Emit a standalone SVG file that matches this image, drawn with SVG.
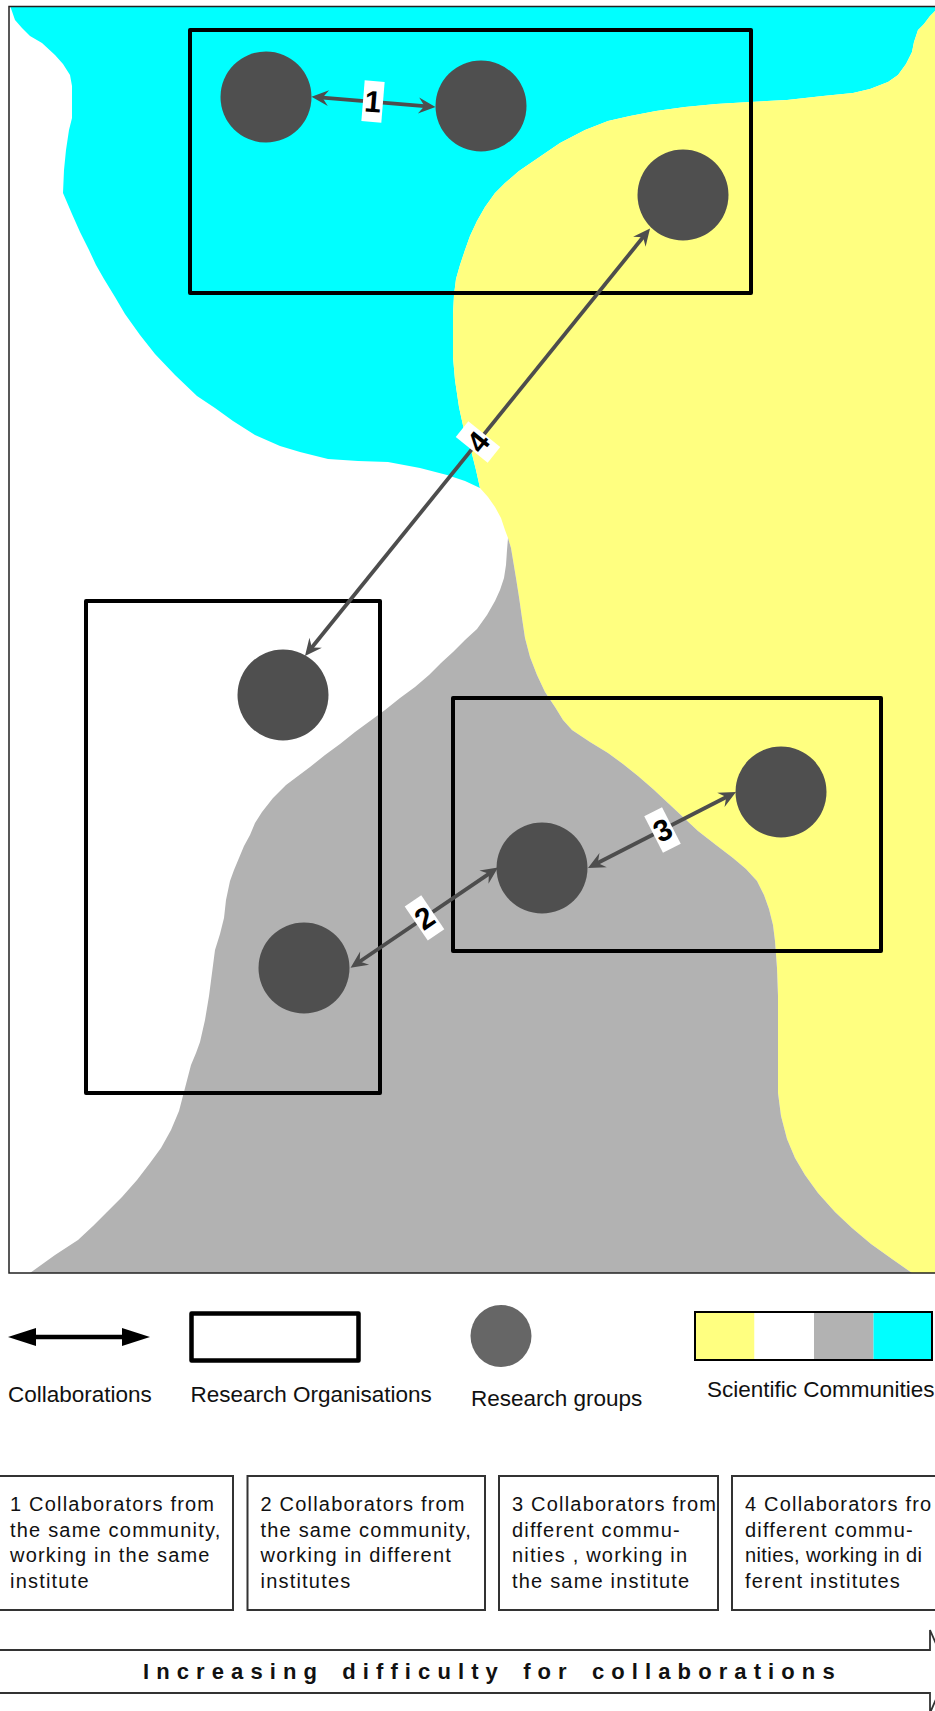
<svg xmlns="http://www.w3.org/2000/svg" width="935" height="1711" viewBox="0 0 935 1711">
<style>
.org{fill:none;stroke:#000;stroke-width:4;stroke-linejoin:round}
.grp{fill:#4f4f4f}
.conn{fill:none;stroke:#4d4d4d;stroke-width:3.8;marker-start:url(#ah);marker-end:url(#ah)}
.lblbox{fill:#fff}
.lbl{font-family:"Liberation Sans",Arial,sans-serif;font-weight:bold;font-size:30px;fill:#000;text-anchor:middle}
.leg{font-family:"Liberation Sans",Arial,sans-serif;font-size:22.5px;fill:#111}
.desc{font-family:"Liberation Sans",Arial,sans-serif;font-size:20px;letter-spacing:1.2px;fill:#111}
.desc.tight{letter-spacing:0.4px}
.dbox{fill:#fff;stroke:#333;stroke-width:2}
.incr{font-family:"Liberation Sans",Arial,sans-serif;font-weight:bold;font-size:22px;letter-spacing:7.1px;word-spacing:5px;fill:#111}
</style>
<defs>
<marker id="ah" viewBox="-10 -9 19 18" refX="0" refY="0" markerWidth="19" markerHeight="18" markerUnits="userSpaceOnUse" orient="auto-start-reverse">
<path d="M8,0 L-9,-8 L-3,0 L-9,8 Z" fill="#4d4d4d"/>
</marker>
<marker id="lh" viewBox="-2 -10 30 20" refX="0" refY="0" markerWidth="30" markerHeight="20" markerUnits="userSpaceOnUse" orient="auto-start-reverse">
<path d="M27,0 L-1,-9 L-1,9 Z" fill="#000"/>
</marker>
</defs>
<rect x="0" y="0" width="935" height="1711" fill="#fff"/>
<g id="communities">
<polygon id="community-cyan" fill="#00ffff" points="10.5,7 935,7 935,11 930,16 924,24 918,30 914,42 912,52 906,64 898,75 888,82 870,89 853,93 823,96 787,100 750,102 716,104 685,107 656,111 630,116 608,121 585,130 560,143 538,158 519,171 505,183 495,193 485,207 477,221 470,236 465,250 460,265 456,279 454,295 453,314 453,335 453,357 455,380 459,407 464,430 471,450 476,470 480,488 465,481 447,475 420,468 388,462 358,461 328,459 300,452 280,446 255,435 233,421 215,408 197,396 175,375 155,354 140,335 125,314 115,297 104,279 96,265 89,250 80,232 72,214 66,200 63,193 64,170 66,150 69,130 72,118 72,86 70,75 63,64 55,55 42,43 30,36 22,28 15,20"/>
<polygon id="community-yellow" fill="#ffff80" points="935,11 930,16 924,24 918,30 914,42 912,52 906,64 898,75 888,82 870,89 853,93 823,96 787,100 750,102 716,104 685,107 656,111 630,116 608,121 585,130 560,143 538,158 519,171 505,183 495,193 485,207 477,221 470,236 465,250 460,265 456,279 454,295 453,314 453,335 453,357 455,380 459,407 464,430 471,450 476,470 480,488 488,497 495,507 501,518 505,530 508,538 511,548 513,560 516,578 519,597 522,618 525,638 530,657 537,675 545,692 555,707 563,720 572,730 590,742 608,753 623,764 638,776 653,789 668,803 683,817 698,831 716,845 733,858 746,869 757,881 764,895 769,909 773,925 775,941 777,968 778,996 778,1042 778,1093 781,1116 787,1139 795,1158 805,1175 818,1193 835,1212 852,1228 871,1244 892,1259 912,1273 935,1273"/>
<polygon id="community-gray" fill="#b2b2b2" points="508,538 511,548 513,560 516,578 519,597 522,618 525,638 530,657 537,675 545,692 555,707 563,720 572,730 590,742 608,753 623,764 638,776 653,789 668,803 683,817 698,831 716,845 733,858 746,869 757,881 764,895 769,909 773,925 775,941 777,968 778,996 778,1042 778,1093 781,1116 787,1139 795,1158 805,1175 818,1193 835,1212 852,1228 871,1244 892,1259 912,1273 30,1273 55,1255 78,1240 93,1226 107,1212 122,1197 137,1180 150,1163 161,1148 171,1130 179,1111 185,1088 191,1065 196,1053 200,1042 205,1020 209,996 212,973 215,950 220,934 224,918 226,900 230,881 234,870 239,858 244,846 250,835 255,823 262,812 273,798 286,785 298,776 310,767 325,755 340,744 355,732 370,721 385,710 400,698 415,687 429,675 441,663 453,652 465,640 477,629 487,615 495,601 500,590 504,578 506,565 507,550"/>
<rect id="frame" x="9" y="6.5" width="940" height="1266.5" fill="none" stroke="#222" stroke-width="1.5"/>
</g>
<g id="org-a"><rect class="org" x="190" y="30" width="561" height="263"/></g>
<g id="org-b"><rect class="org" x="86" y="601" width="294" height="492"/></g>
<g id="org-c"><rect class="org" x="453" y="698" width="428" height="253"/></g>
<g id="grp-1"><circle class="grp" cx="266" cy="97" r="45.5"/></g>
<g id="grp-2"><circle class="grp" cx="481" cy="106" r="45.5"/></g>
<g id="grp-3"><circle class="grp" cx="683" cy="195" r="45.5"/></g>
<g id="grp-4"><circle class="grp" cx="283" cy="695" r="45.5"/></g>
<g id="grp-5"><circle class="grp" cx="304" cy="968" r="45.5"/></g>
<g id="grp-6"><circle class="grp" cx="542" cy="868" r="45.5"/></g>
<g id="grp-7"><circle class="grp" cx="781" cy="792" r="45.5"/></g>
<g id="connectors">
<line id="conn-1" class="conn" x1="319.5" y1="97.4" x2="427.5" y2="106.3"/>
<line id="conn-4" class="conn" x1="645" y1="234.8" x2="310" y2="649.8"/>
<line id="conn-2" class="conn" x1="357.2" y1="963.2" x2="491.4" y2="872.1"/>
<line id="conn-3" class="conn" x1="595.1" y1="864.3" x2="728.9" y2="795.7"/>
<g transform="translate(373,101.5) rotate(4.7)"><rect class="lblbox" x="-10" y="-20.5" width="20" height="41"/><text class="lbl" x="0" y="10.5">1</text></g>
<g transform="translate(478,442) rotate(-51.1)"><rect class="lblbox" x="-10" y="-20.5" width="20" height="41"/><text class="lbl" x="0" y="10.5">4</text></g>
<g transform="translate(424.5,917.8) rotate(-34.2)"><rect class="lblbox" x="-10" y="-20.5" width="20" height="41"/><text class="lbl" x="0" y="10.5">2</text></g>
<g transform="translate(662.5,830) rotate(-27.2)"><rect class="lblbox" x="-10" y="-20.5" width="20" height="41"/><text class="lbl" x="0" y="10.5">3</text></g>
</g>
<g id="legend">
<g id="legend-collab">
<line x1="35" y1="1337" x2="123" y2="1337" stroke="#000" stroke-width="4.5" marker-start="url(#lh)" marker-end="url(#lh)"/>
<text class="leg" x="8" y="1402">Collaborations</text>
</g>
<g id="legend-org">
<rect x="191.5" y="1313.5" width="167" height="47" fill="#fff" stroke="#000" stroke-width="4.5" stroke-linejoin="round"/>
<text class="leg" x="190.5" y="1402">Research Organisations</text>
</g>
<g id="legend-group">
<ellipse cx="501" cy="1336" rx="30.5" ry="31" fill="#666"/>
<text class="leg" x="471" y="1406">Research groups</text>
</g>
<g id="legend-communities">
<rect x="695" y="1312" width="59.5" height="48" fill="#ffff80"/>
<rect x="754.5" y="1312" width="59.5" height="48" fill="#fff"/>
<rect x="814" y="1312" width="59.5" height="48" fill="#b2b2b2"/>
<rect x="873.5" y="1312" width="57.5" height="48" fill="#00ffff"/>
<rect x="695" y="1312" width="237" height="48" fill="none" stroke="#000" stroke-width="2"/>
<text class="leg" x="707" y="1397">Scientific Communities</text>
</g>
</g>
<g id="descriptions">
<g id="desc-1">
<rect class="dbox" x="-3" y="1476" width="236" height="134"/>
<text class="desc" x="10" y="1511">1 Collaborators from</text>
<text class="desc" x="10" y="1537">the same community,</text>
<text class="desc" x="10" y="1562">working in the same</text>
<text class="desc" x="10" y="1588">institute</text>
</g>
<g id="desc-2">
<rect class="dbox" x="247.5" y="1476" width="237.5" height="134"/>
<text class="desc" x="260.5" y="1511">2 Collaborators from</text>
<text class="desc" x="260.5" y="1537">the same community,</text>
<text class="desc" x="260.5" y="1562">working in different</text>
<text class="desc" x="260.5" y="1588">institutes</text>
</g>
<g id="desc-3">
<rect class="dbox" x="499" y="1476" width="219" height="134"/>
<text class="desc" x="512" y="1511">3 Collaborators from</text>
<text class="desc" x="512" y="1537">different commu-</text>
<text class="desc" x="512" y="1562">nities , working in</text>
<text class="desc" x="512" y="1588">the same institute</text>
</g>
<g id="desc-4">
<rect class="dbox" x="732" y="1476" width="220" height="134"/>
<text class="desc" x="745" y="1511">4 Collaborators fro</text>
<text class="desc" x="745" y="1537">different commu-</text>
<text class="desc tight" x="745" y="1562">nities, working in di</text>
<text class="desc" x="745" y="1588">ferent institutes</text>
</g>
</g>
<g id="difficulty-arrow">
<polygon points="-5,1650 930,1650 930,1630 948,1671.5 930,1713 930,1693 -5,1693" fill="#fff" stroke="#333" stroke-width="1.8"/>
<text class="incr" x="143" y="1679">Increasing difficulty for collaborations</text>
</g>
</svg>
